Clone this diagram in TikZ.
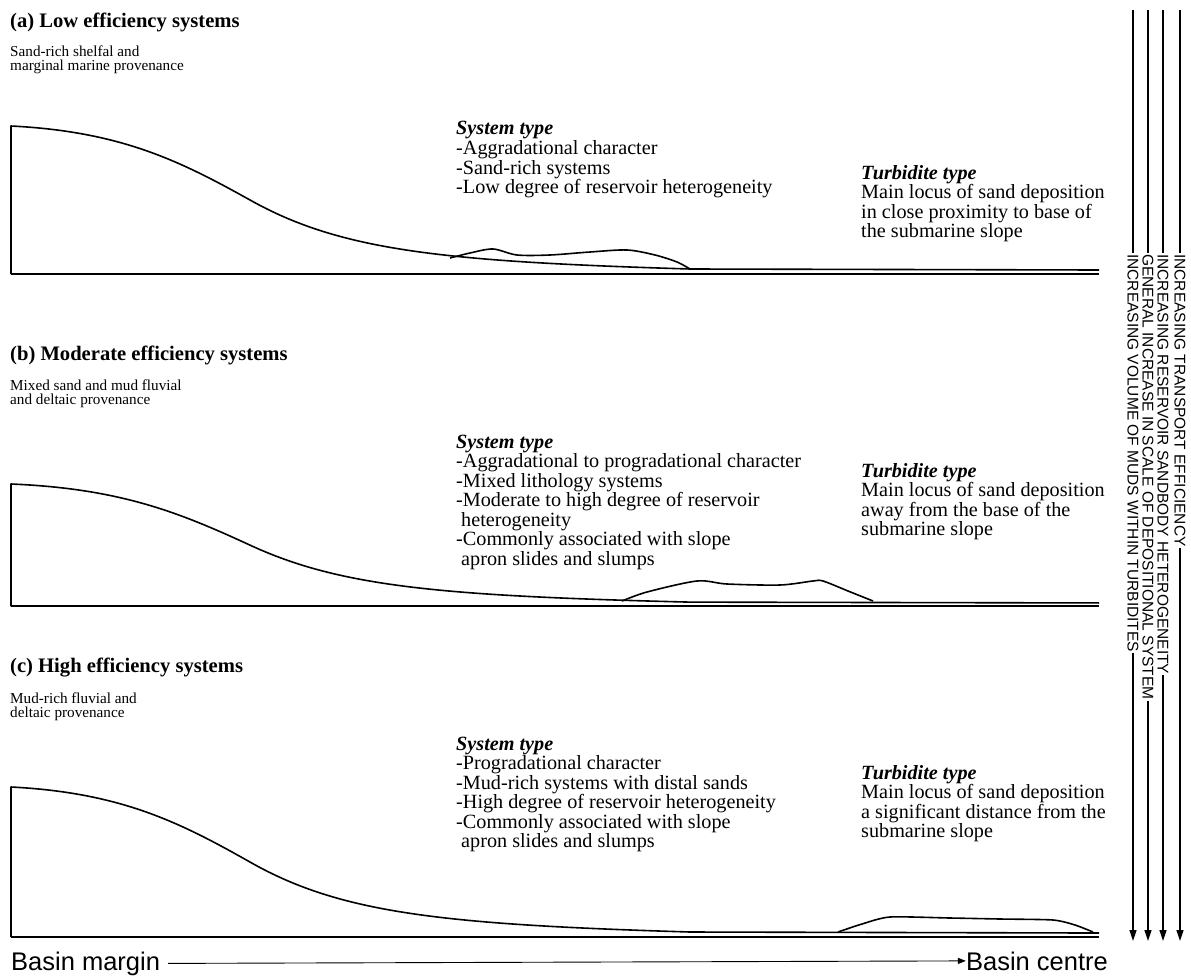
\documentclass[tikz,border=0pt]{standalone}
\usepackage{fontspec}
\setmainfont{Liberation Serif}
\setsansfont{Liberation Sans}
\usetikzlibrary{arrows.meta}

% shelf edge, slope and basin floor, drawn from the shelf corner
\newcommand\slopeprofile{%
  \draw[profile] (0,148) -- (0,0)
    .. controls (110,5.5) and (169,35) .. (239,74)
    .. controls (329,124.4) and (429,135.5) .. (679,143) -- (1088,144);
  \draw[profile] (0,148) -- (1088,148);
}

\begin{document}
\begin{tikzpicture}[
    x=1pt, y=-1pt,
    >={Triangle[length=11pt,width=7pt]},
    profile/.style={line width=1.6pt, line join=round},
    sandbody/.style={line width=1.6pt, line join=round},
    sysheading/.style={anchor=base west, inner sep=0pt, font=\fontsize{20.6}{21}\selectfont\bfseries},
    provenance/.style={anchor=base west, inner sep=0pt, font=\fontsize{15.2}{15}\selectfont},
    typehead/.style={anchor=base west, inner sep=0pt, font=\fontsize{20.2}{20}\selectfont\bfseries\itshape},
    typeline/.style={anchor=base west, inner sep=0pt, font=\fontsize{20.2}{20}\selectfont},
    trend/.style={rotate=-90, anchor=west, inner sep=1pt, font=\fontsize{15.5}{16}\selectfont\sffamily},
    basin/.style={inner sep=0pt, font=\fontsize{25.5}{26}\selectfont\sffamily},
  ]
  \useasboundingbox (0,0) rectangle (1191,979);

  %%%%%%%%%%%%%%%% (a) LOW EFFICIENCY %%%%%%%%%%%%%%%%
  \node[sysheading] (titleA) at (10,28) {(a) Low efficiency systems};
  \node[provenance] (provA-1) at (10,57) {Sand-rich shelfal and};
  \node[provenance] (provA-2) at (10,71) {marginal marine provenance};

  \node[typehead] (sysA) at (456,135) {System type};
  \foreach \t [count=\i] in {-Aggradational character, -Sand-rich systems,
      -Low degree of reservoir heterogeneity}
    \node[typeline] (sysA-\i) at (456,135+19.5*\i) {\t};

  \node[typehead] (turbA) at (861,179) {Turbidite type};
  \foreach \t [count=\i] in {Main locus of sand deposition, in close proximity to base of,
      the submarine slope}
    \node[typeline] (turbA-\i) at (861,179+19.5*\i) {\t};

  \begin{scope}[shift={(11,126)}]
    \slopeprofile
  \end{scope}
  \draw[sandbody] plot[smooth, tension=0.5] coordinates {(450,258) (470,253) (493,249)
      (517,255) (550,255) (590,252) (627,250) (655,255) (677,262) (690,269)};

  %%%%%%%%%%%%%%%% (b) MODERATE EFFICIENCY %%%%%%%%%%%%%%%%
  \node[sysheading] (titleB) at (10,360) {(b) Moderate efficiency systems};
  \node[provenance] (provB-1) at (10,390) {Mixed sand and mud fluvial};
  \node[provenance] (provB-2) at (10,404) {and deltaic provenance};

  \node[typehead] (sysB) at (456,448) {System type};
  \foreach \t [count=\i] in {-Aggradational to progradational character,
      -Mixed lithology systems, -Moderate to high degree of reservoir,
      \hspace*{5pt}heterogeneity, -Commonly associated with slope,
      \hspace*{5pt}apron slides and slumps}
    \node[typeline] (sysB-\i) at (456,448+19.5*\i) {\t};

  \node[typehead] (turbB) at (861,477) {Turbidite type};
  \foreach \t [count=\i] in {Main locus of sand deposition, away from the base of the,
      submarine slope}
    \node[typeline] (turbB-\i) at (861,477+19.5*\i) {\t};

  \begin{scope}[shift={(11,484)}, yscale=0.826]
    \slopeprofile
  \end{scope}
  \draw[sandbody] plot[smooth, tension=0.5] coordinates {(622,601) (647,592) (697,581)
      (727,584) (780,585) (813,581) (823,581) (848,591) (873,601)};

  %%%%%%%%%%%%%%%% (c) HIGH EFFICIENCY %%%%%%%%%%%%%%%%
  \node[sysheading] (titleC) at (10,672) {(c) High efficiency systems};
  \node[provenance] (provC-1) at (10,703) {Mud-rich fluvial and};
  \node[provenance] (provC-2) at (10,717) {deltaic provenance};

  \node[typehead] (sysC) at (456,750) {System type};
  \foreach \t [count=\i] in {-Progradational character,
      -Mud-rich systems with distal sands, -High degree of reservoir heterogeneity,
      -Commonly associated with slope, \hspace*{5pt}apron slides and slumps}
    \node[typeline] (sysC-\i) at (456,750+19.5*\i) {\t};

  \node[typehead] (turbC) at (861,779) {Turbidite type};
  \foreach \t [count=\i] in {Main locus of sand deposition, a significant distance from the,
      submarine slope}
    \node[typeline] (turbC-\i) at (861,779+19.5*\i) {\t};

  \begin{scope}[shift={(11,787)}, yscale=1.014]
    \slopeprofile
  \end{scope}
  \draw[sandbody] plot[smooth, tension=0.4] coordinates {(838,932) (862,924) (890,917)
      (950,918) (1000,919) (1053,920) (1075,925) (1093,932)};

  %%%%%%%%%%%%%%%% TRENDS %%%%%%%%%%%%%%%%
  \foreach \x/\t [count=\i] in {1133/INCREASING VOLUME OF MUDS WITHIN TURBIDITES,
      1148/GENERAL INCREASE IN SCALE OF DEPOSITIONAL SYSTEM,
      1163/INCREASING RESERVOIR SANDBODY HETEROGENEITY,
      1180/INCREASING TRANSPORT EFFICIENCY} {
    \coordinate (trendtop-\i) at (\x,10);
    \coordinate (trendtip-\i) at (\x,941);
    \node[trend] (trend-\i) at (\x,253) {\t};
    \draw[line width=1.3pt] (trendtop-\i) -- (trend-\i.west);
    \draw[->, line width=1.3pt] (trend-\i.east) -- (trendtip-\i);
  }

  %%%%%%%%%%%%%%%% BASIN AXIS %%%%%%%%%%%%%%%%
  \node[basin, anchor=base west] (margin) at (11,970) {Basin margin};
  \node[basin, anchor=base east] (centre) at (1108,970) {Basin centre};
  \draw[->, line width=0.9pt, >={Triangle[length=8pt,width=6pt]}]
    ([xshift=8pt]margin.east) -- (centre.west);

\end{tikzpicture}
\end{document}
